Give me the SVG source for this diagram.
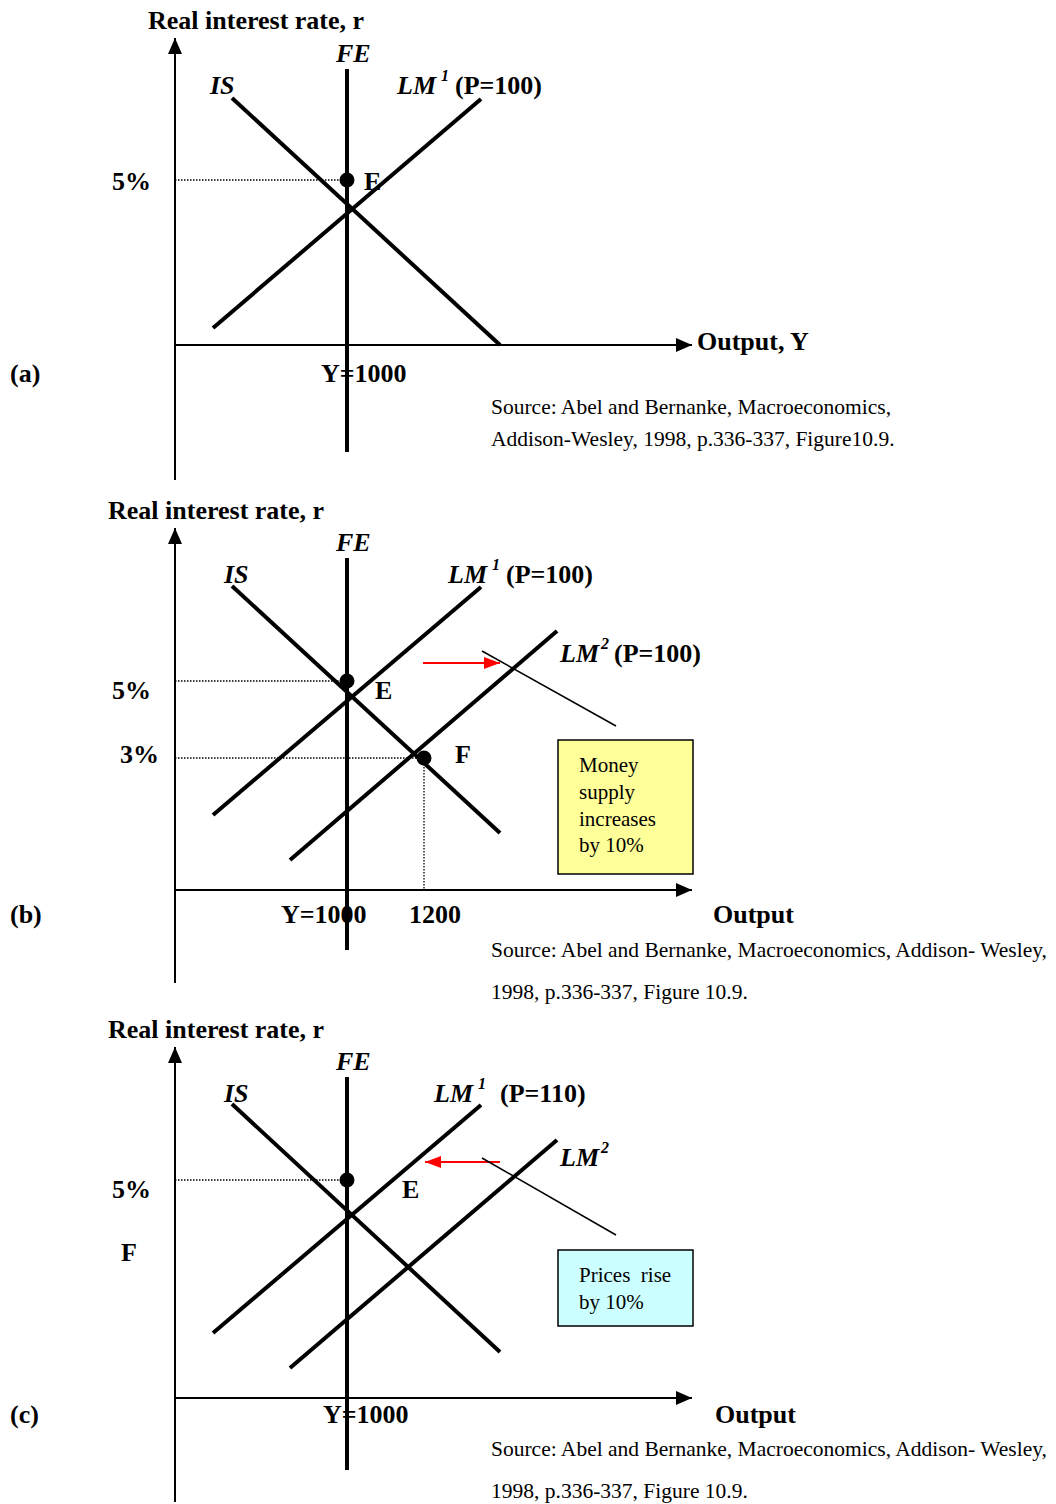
<svg xmlns="http://www.w3.org/2000/svg" width="1056" height="1504" viewBox="0 0 1056 1504">
<style>
text{font-family:"Liberation Serif","Times New Roman",serif;fill:#000}
.b{font-weight:bold;font-size:26px}
.bi{font-weight:bold;font-style:italic;font-size:26px}
.sup{font-weight:bold;font-style:italic;font-size:16px}
.src{font-size:21.5px}
.box{font-size:21px}
.axis{stroke:#000;stroke-width:2;fill:none}
.curve{stroke:#000;stroke-width:4;fill:none}
.dot{stroke:#000;stroke-width:1.3;stroke-dasharray:1.5 1.5;fill:none}
.thin{stroke:#000;stroke-width:1.5;fill:none}
.red{stroke:#ff0000;stroke-width:2;fill:none}
</style>
<defs>
<marker id="axh" viewBox="0 0 16 14" refX="16" refY="7" markerWidth="16" markerHeight="14" orient="auto" markerUnits="userSpaceOnUse"><path d="M0,0 L16,7 L0,14 Z" fill="#000"/></marker>
<marker id="rh" viewBox="0 0 16 12" refX="16" refY="6" markerWidth="16" markerHeight="12" orient="auto" markerUnits="userSpaceOnUse"><path d="M0,0 L16,6 L0,12 Z" fill="#ff0000"/></marker>
</defs>

<!-- Panel (a) -->
<g id="panel-a">
  <g id="a-axes">
    <line class="axis" x1="175" y1="480" x2="175" y2="38" marker-end="url(#axh)"/>
    <line class="axis" x1="175" y1="345" x2="692" y2="345" marker-end="url(#axh)"/>
  </g>
  <g id="a-connectors">
    <line class="dot" x1="175" y1="180" x2="347" y2="180"/>
    <line class="curve" x1="347" y1="69" x2="347" y2="452"/>
    <line class="curve" x1="232" y1="98" x2="500" y2="345"/>
    <line class="curve" x1="213" y1="328" x2="481" y2="99"/>
  </g>
  <g id="a-E"><circle cx="347" cy="180" r="7.5" fill="#000"/><text class="b" x="364" y="190">E</text></g>
  <text class="b" x="148" y="29">Real interest rate, r</text>
  <text class="bi" x="336" y="62">FE</text>
  <text class="bi" x="210" y="94">IS</text>
  <text class="bi" x="397" y="94">LM</text><text class="sup" x="441" y="81">1</text><text class="b" x="455" y="94">(P=100)</text>
  <text class="b" x="112" y="190">5%</text>
  <text class="b" x="697" y="350">Output, Y</text>
  <text class="b" x="321" y="382">Y=1000</text>
  <text class="b" x="10" y="382">(a)</text>
  <text class="src" x="491" y="414">Source: Abel and Bernanke, Macroeconomics,</text>
  <text class="src" x="491" y="446">Addison-Wesley, 1998, p.336-337, Figure10.9.</text>
</g>

<!-- Panel (b) -->
<g id="panel-b">
  <g id="b-axes">
    <line class="axis" x1="175" y1="983" x2="175" y2="528" marker-end="url(#axh)"/>
    <line class="axis" x1="175" y1="890" x2="692" y2="890" marker-end="url(#axh)"/>
  </g>
  <g id="b-connectors">
    <line class="dot" x1="175" y1="681" x2="347" y2="681"/>
    <line class="dot" x1="175" y1="758" x2="424" y2="758"/>
    <line class="dot" x1="424" y1="758" x2="424" y2="890"/>
    <line class="curve" x1="347" y1="558" x2="347" y2="950"/>
    <line class="curve" x1="232" y1="586" x2="500" y2="833"/>
    <line class="curve" x1="213" y1="815" x2="481" y2="587"/>
    <line class="curve" x1="290" y1="860" x2="557" y2="631"/>
    <line class="red" x1="423" y1="663" x2="500" y2="663" marker-end="url(#rh)"/>
    <line class="thin" x1="482" y1="651" x2="616" y2="726"/>
  </g>
  <g id="b-E"><circle cx="347" cy="681" r="7.5" fill="#000"/><text class="b" x="375" y="699">E</text></g>
  <g id="b-F"><circle cx="424" cy="758" r="7.5" fill="#000"/><text class="b" x="455" y="763">F</text></g>
  <g id="b-note">
    <rect x="558" y="740" width="135" height="134" fill="#ffff99" stroke="#000" stroke-width="1.5"/>
    <text class="box" x="579" y="772">Money</text>
    <text class="box" x="579" y="799">supply</text>
    <text class="box" x="579" y="826">increases</text>
    <text class="box" x="579" y="852">by 10%</text>
  </g>
  <text class="b" x="108" y="519">Real interest rate, r</text>
  <text class="bi" x="336" y="551">FE</text>
  <text class="bi" x="224" y="583">IS</text>
  <text class="bi" x="448" y="583">LM</text><text class="sup" x="492" y="570">1</text><text class="b" x="506" y="583">(P=100)</text>
  <text class="bi" x="560" y="662">LM</text><text class="sup" x="601" y="649">2</text><text class="b" x="614" y="662">(P=100)</text>
  <text class="b" x="112" y="699">5%</text>
  <text class="b" x="120" y="763">3%</text>
  <text class="b" x="713" y="923">Output</text>
  <text class="b" x="281" y="923">Y=1000</text>
  <text class="b" x="409" y="923">1200</text>
  <text class="b" x="10" y="923">(b)</text>
  <text class="src" x="491" y="957">Source: Abel and Bernanke, Macroeconomics, Addison- Wesley,</text>
  <text class="src" x="491" y="999">1998, p.336-337, Figure 10.9.</text>
</g>

<!-- Panel (c) -->
<g id="panel-c">
  <g id="c-axes">
    <line class="axis" x1="175" y1="1502" x2="175" y2="1047" marker-end="url(#axh)"/>
    <line class="axis" x1="175" y1="1398" x2="692" y2="1398" marker-end="url(#axh)"/>
  </g>
  <g id="c-connectors">
    <line class="dot" x1="175" y1="1180" x2="347" y2="1180"/>
    <line class="curve" x1="347" y1="1077" x2="347" y2="1470"/>
    <line class="curve" x1="232" y1="1104" x2="500" y2="1352"/>
    <line class="curve" x1="213" y1="1333" x2="481" y2="1105"/>
    <line class="curve" x1="290" y1="1368" x2="557" y2="1140"/>
    <line class="red" x1="500" y1="1162" x2="425" y2="1162" marker-end="url(#rh)"/>
    <line class="thin" x1="482" y1="1158" x2="616" y2="1235"/>
  </g>
  <g id="c-E"><circle cx="347" cy="1180" r="7.5" fill="#000"/><text class="b" x="402" y="1198">E</text></g>
  <g id="c-note">
    <rect x="558" y="1250" width="135" height="76" fill="#ccffff" stroke="#000" stroke-width="1.5"/>
    <text class="box" x="579" y="1282" xml:space="preserve">Prices  rise</text>
    <text class="box" x="579" y="1309">by 10%</text>
  </g>
  <text class="b" x="108" y="1038">Real interest rate, r</text>
  <text class="bi" x="336" y="1070">FE</text>
  <text class="bi" x="224" y="1102">IS</text>
  <text class="bi" x="434" y="1102">LM</text><text class="sup" x="478" y="1089">1</text><text class="b" x="500" y="1102">(P=110)</text>
  <text class="bi" x="560" y="1166">LM</text><text class="sup" x="601" y="1153">2</text>
  <text class="b" x="112" y="1198">5%</text>
  <text class="b" x="121" y="1261">F</text>
  <text class="b" x="715" y="1423">Output</text>
  <text class="b" x="323" y="1423">Y=1000</text>
  <text class="b" x="10" y="1423">(c)</text>
  <text class="src" x="491" y="1456">Source: Abel and Bernanke, Macroeconomics, Addison- Wesley,</text>
  <text class="src" x="491" y="1498">1998, p.336-337, Figure 10.9.</text>
</g>
</svg>
